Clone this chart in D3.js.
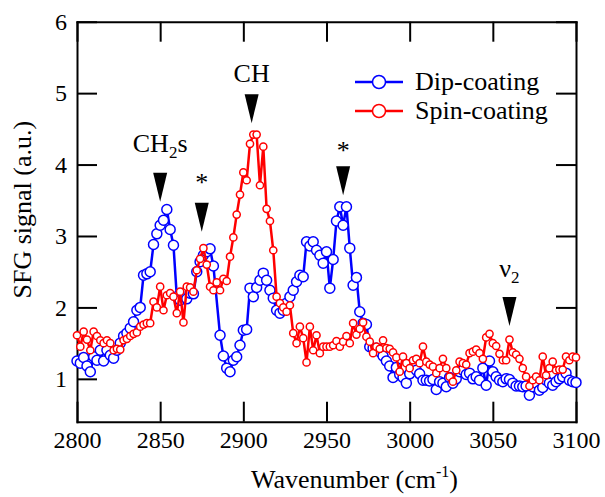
<!DOCTYPE html>
<html>
<head>
<meta charset="utf-8">
<script src="https://cdn.jsdelivr.net/npm/d3@7"></script>
<style>
  body { margin: 0; background: #fff; }
  .axis path, .axis line { stroke: #000; stroke-width: 2px; }
</style>
</head>
<body>
<svg id="chart"></svg>
<script>
// Dip-coating (blue)
var dipWavenumber = [2800,2802,2804,2806,2808,2810,2812,2814,2816,2818,2820,2822,2824,2826,2828,2830,2832,2834,2836,2838,
  2840,2842,2844,2846,2848,2850,2852,2854,2856,2858,2860,2862,2864,2866,2868,2870,2872,2874,2876,2878,
  2880,2882,2886,2888,2890,2892,2894,2896,2898,2900,2902,2904,2906,2908,2910,2912,2914,2916,2918,2920,
  2922,2924,2926,2928,2930,2932,2934,2936,2938,2940,2942,2944,2946,2948,2950,2952,2954,2956,2958,2960,
  2962,2964,2966,2968,2970,2972,2974,2976,2978,2980,2982,2984,2986,2988,2990,2992,2994,2996,2998,3000,
  3002,3004,3006,3008,3010,3012,3014,3016,3018,3020,3022,3024,3026,3028,3030,3032,3034,3036,3038,3040,
  3042,3044,3046,3048,3050,3052,3054,3056,3058,3060,3062,3064,3066,3068,3070,3072,3074,3076,3078,3080,
  3082,3084,3086,3088,3090,3092,3094,3096,3098,3100];
var dipSignal = [1.25,1.22,1.30,1.18,1.10,1.31,1.26,1.40,1.25,1.40,1.33,1.29,1.40,1.50,1.60,1.64,1.71,1.80,1.96,2.00,
  2.45,2.47,2.50,2.88,3.03,3.15,3.22,3.37,3.09,2.87,2.15,2.10,2.20,2.12,2.20,2.19,2.50,2.64,2.73,2.78,
  2.82,2.58,1.61,1.32,1.15,1.10,1.26,1.31,1.47,1.68,1.69,2.27,2.15,2.28,2.38,2.48,2.38,2.24,2.13,1.96,
  1.92,1.96,2.06,2.15,2.24,2.36,2.45,2.43,2.92,2.86,2.92,2.80,2.73,2.62,2.78,2.27,2.67,3.21,3.41,3.15,
  3.41,2.83,2.31,2.42,1.94,1.78,1.76,1.45,1.43,1.43,1.38,1.32,1.25,1.18,1.02,1.16,1.06,1.02,0.94,1.07,
  1.22,1.12,1.07,0.98,0.98,0.97,0.99,0.85,0.96,0.94,0.89,1.02,0.94,1.00,1.10,1.12,1.06,1.08,1.00,1.03,
  0.98,1.15,0.91,1.25,1.10,1.03,0.98,0.96,1.00,0.99,0.94,0.90,0.90,0.89,0.90,0.77,0.89,0.94,0.84,0.88,
  0.98,0.94,0.91,0.96,1.00,1.03,1.08,0.98,0.96,0.95];

// Spin-coating (red)
var spinWavenumber = [2800,2802,2804,2806,2808,2810,2812,2814,2816,2818,2820,2822,2824,2826,2828,2830,2832,2834,2836,2838,
  2840,2842,2844,2846,2848,2850,2852,2854,2856,2858,2860,2862,2864,2866,2868,2870,2872,2874,2876,2878,
  2880,2882,2884,2886,2888,2890,2892,2894,2896,2898,2900,2902,2904,2906,2908,2910,2912,2914,2916,2918,
  2920,2922,2924,2926,2928,2930,2932,2934,2936,2938,2940,2942,2944,2946,2948,2950,2952,2954,2956,2958,
  2960,2962,2964,2966,2968,2970,2972,2974,2976,2978,2980,2982,2984,2986,2988,2990,2992,2994,2996,2998,
  3000,3002,3004,3006,3008,3010,3012,3014,3016,3018,3020,3022,3024,3026,3028,3030,3032,3034,3036,3038,
  3040,3042,3044,3046,3048,3050,3052,3054,3056,3058,3060,3062,3064,3066,3068,3070,3072,3074,3076,3078,
  3080,3082,3084,3086,3088,3090,3092,3094,3096,3098,3100];
var spinSignal = [1.61,1.45,1.66,1.55,1.40,1.66,1.60,1.54,1.50,1.54,1.50,1.40,1.42,1.41,1.54,1.56,1.60,1.63,1.65,1.73,
  1.76,1.78,1.78,2.08,2.00,2.29,1.96,2.17,2.20,2.15,1.92,2.22,1.79,2.29,2.28,2.22,2.52,2.68,2.83,2.60,
  2.29,2.24,2.35,2.24,2.40,2.37,2.71,2.98,3.30,3.58,3.89,3.78,4.29,4.42,4.42,3.71,4.25,3.38,3.21,2.80,
  2.15,2.06,2.00,1.94,2.03,1.64,1.50,1.73,1.57,1.23,1.73,1.40,1.61,1.36,1.45,1.45,1.45,1.47,1.53,1.45,
  1.52,1.60,1.50,1.78,1.62,1.70,1.79,1.59,1.52,1.36,1.45,1.42,1.54,1.43,1.42,1.37,1.30,1.10,1.31,1.22,
  1.15,1.26,1.28,1.22,1.45,1.24,1.20,1.17,1.08,1.15,1.28,1.15,1.03,0.96,1.12,1.24,1.22,1.20,1.36,1.38,
  1.41,1.36,1.28,1.58,1.63,1.50,1.46,1.35,1.26,1.26,1.55,1.37,1.34,1.28,1.15,1.03,0.90,0.98,1.03,0.98,
  1.31,1.05,1.15,1.24,1.12,1.13,1.13,1.31,1.26,1.31,1.30];

var seriesNames = ["Dip-coating", "Spin-coating"];
var seriesColors = ["#0000ff", "#ff0000"];
var xTicks = [2800, 2850, 2900, 2950, 3000, 3050, 3100];
var yTicks = [1, 2, 3, 4, 5, 6];

// peak markers: arrow tip and label baseline, in data units ("|" toggles subscript)
var markWavenumber = [2850, 2875, 2905, 2960, 3060];
var markTip = [3.48, 3.06, 4.58, 3.57, 1.74];
var markLabelValue = [4.18, 3.63, 5.16, 4.08, 2.43];
var markLabels = ["CH|2|s", "*", "CH", "*", "\u03bd|2"];

var FONT = "'Liberation Serif', 'Times New Roman', Times, serif";

var W = 605, H = 497;
var margin = {top: 21.7, right: 29, bottom: 75.3, left: 77};
var width = W - margin.left - margin.right;
var height = H - margin.top - margin.bottom;

var svg = d3.select("#chart").attr("width", W).attr("height", H);
var g = svg.append("g")
    .attr("transform", "translate(" + margin.left + "," + margin.top + ")");

var x = d3.scaleLinear().domain([2800, 3100]).range([0, width]);
var y = d3.scaleLinear().domain([0.4, 6]).range([height, 0]);

// axes, ticks pointing inward on all four sides
g.append("g").attr("class", "axis")
    .attr("transform", "translate(0," + height + ")")
    .call(d3.axisBottom(x).tickValues(xTicks).tickSize(-20).tickSizeOuter(0).tickPadding(9).tickFormat(d3.format("d")));
g.append("g").attr("class", "axis")
    .call(d3.axisTop(x).tickValues(xTicks).tickSize(-20).tickSizeOuter(0).tickFormat(""));
g.append("g").attr("class", "axis")
    .call(d3.axisLeft(y).tickValues(yTicks).tickSize(-20).tickSizeOuter(0).tickPadding(10).tickFormat(d3.format("d")));
g.append("g").attr("class", "axis")
    .attr("transform", "translate(" + width + ",0)")
    .call(d3.axisRight(y).tickValues(yTicks).tickSize(-20).tickSizeOuter(0).tickFormat(""));
svg.selectAll(".axis").attr("font-family", null).attr("font-size", null);
svg.selectAll(".axis text").style("font-size", "24px");
svg.selectAll(".axis .domain").attr("stroke-linecap", "square");

// series
var series = [
  {name: seriesNames[0], color: seriesColors[0], xs: dipWavenumber, ys: dipSignal, r: 5},
  {name: seriesNames[1], color: seriesColors[1], xs: spinWavenumber, ys: spinSignal, r: 3.6}
];

var line = d3.line()
    .x(function(d) { return x(d[0]); })
    .y(function(d) { return y(d[1]); });

series.forEach(function(s) {
  var pts = s.xs.map(function(w, i) { return [w, s.ys[i]]; });
  g.append("path")
      .datum(pts)
      .attr("fill", "none")
      .attr("stroke", s.color)
      .attr("stroke-width", 2.5)
      .attr("d", line);
  g.selectAll(null)
      .data(pts)
      .enter()
      .append("circle")
      .attr("cx", function(d) { return x(d[0]); })
      .attr("cy", function(d) { return y(d[1]); })
      .attr("r", s.r)
      .attr("fill", "#fff")
      .attr("stroke", s.color)
      .attr("stroke-width", 1.5);
});

// peak arrows and labels
markWavenumber.forEach(function(w, i) {
  var tx = x(w), ty = y(markTip[i]);
  g.append("path")
      .attr("d", "M" + (tx - 7) + "," + (ty - 29) + "L" + (tx + 7) + "," + (ty - 29) + "L" + tx + "," + ty + "Z")
      .attr("fill", "#000");
  var t = g.append("text")
      .attr("x", tx)
      .attr("y", y(markLabelValue[i]))
      .attr("text-anchor", "middle")
      .style("font-size", "26px");
  markLabels[i].split("|").forEach(function(part, j) {
    var sub = j % 2 === 1;
    var prevSub = j > 0 && !sub;
    t.append("tspan")
        .attr("dy", sub ? 6 : (prevSub ? -6 : 0))
        .style("font-size", sub ? "17px" : "26px")
        .text(part);
  });
});

// legend
var legend = svg.append("g").attr("transform", "translate(355,82)");
series.forEach(function(s, i) {
  var row = legend.append("g").attr("transform", "translate(0," + (i * 29) + ")");
  row.append("line").attr("x1", 0).attr("x2", 48)
      .attr("stroke", s.color).attr("stroke-width", 2.5);
  row.append("circle").attr("cx", 24).attr("r", 6.5)
      .attr("fill", "#fff").attr("stroke", s.color).attr("stroke-width", 1.5);
  row.append("text").attr("x", 60).attr("y", 8)
      .style("font-size", "26px").text(s.name);
});

// axis titles
svg.append("text")
    .attr("transform", "translate(31," + (margin.top + height / 2 - 12) + ")rotate(-90)")
    .attr("text-anchor", "middle")
    .style("font-size", "26px")
    .text("SFG signal (a.u.)");

var xt = svg.append("text")
    .attr("x", margin.left + width / 2 + 28)
    .attr("y", 488)
    .attr("text-anchor", "middle")
    .style("font-size", "26px");
xt.append("tspan").text("Wavenumber (cm");
xt.append("tspan").attr("dy", -11).style("font-size", "16px").text("-1");
xt.append("tspan").attr("dy", 11).text(")");

// one serif face for every text
svg.selectAll("text")
    .style("font-family", FONT)
    .style("fill", "#000");
</script>
</body>
</html>
